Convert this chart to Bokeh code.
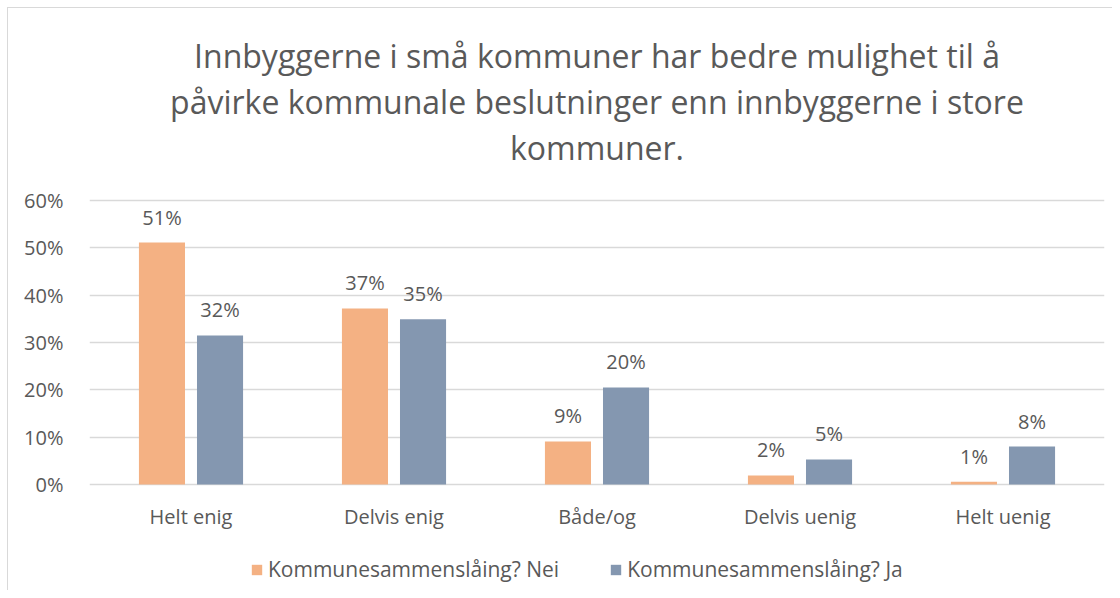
from bokeh.plotting import figure
from bokeh.models import (ColumnDataSource, FactorRange, Range1d, FixedTicker,
                          PrintfTickFormatter, LabelSet, Title, Legend, LegendItem)
from bokeh.core.properties import value
from bokeh.transform import dodge
from bokeh.embed import file_html
from bokeh.resources import INLINE

categories = ["Helt enig", "Delvis enig", "Både/og", "Delvis uenig", "Helt uenig"]
nei = [51.1, 37.2, 9.1, 1.9, 0.6]
ja = [31.5, 34.9, 20.5, 5.3, 8.0]
nei_labels = ["51%", "37%", "9%", "2%", "1%"]
ja_labels = ["32%", "35%", "20%", "5%", "8%"]
series_names = ["Kommunesammenslåing? Nei", "Kommunesammenslåing? Ja"]
title_lines = ["Innbyggerne i små kommuner har bedre mulighet til å",
               "påvirke kommunale beslutninger enn innbyggerne i store",
               "kommuner."]
y_ticks = [0, 10, 20, 30, 40, 50, 60]

FONT = "Open Sans"
GREY = "#595959"
ORANGE = "#F4B183"
BLUE = "#8497B0"

source = ColumnDataSource(dict(cat=categories, nei=nei, ja=ja,
                               nei_lbl=nei_labels, ja_lbl=ja_labels))

# the frame reaches below 0 so the category labels and legend sit inside it
p = figure(x_range=FactorRange(*categories), y_range=Range1d(-22.4, 66.55),
           frame_width=1015, frame_height=421,
           output_backend="svg", toolbar_location=None,
           min_border_left=81, min_border_right=8, min_border_top=161,
           min_border_bottom=0)
p.styles = {"margin-left": "7px", "margin-top": "7px",
            "border-left": "1px solid #D9D9D9", "border-top": "1px solid #D9D9D9"}

for line in reversed(title_lines):
    t = Title(text=line, align="center", text_font=FONT, text_font_size="32px",
              text_color=GREY, text_font_style="normal", standoff=1, offset=-28)
    p.add_layout(t, "above")

r1 = p.vbar(x=dodge("cat", -0.143, range=p.x_range), top="nei", width=0.227,
            source=source, fill_color=ORANGE, line_color=None)
r2 = p.vbar(x=dodge("cat", 0.143, range=p.x_range), top="ja", width=0.227,
            source=source, fill_color=BLUE, line_color=None)

for col, off in (("nei", -0.143), ("ja", 0.143)):
    p.add_layout(LabelSet(x=dodge("cat", off, range=p.x_range), y=col,
                          text=col + "_lbl", source=source, y_offset=18,
                          text_align="center", text_baseline="alphabetic",
                          text_font=value(FONT), text_font_size=value("20px"),
                          text_color=GREY))

# category labels under the zero line
p.add_layout(LabelSet(x="cat", y=0, text="cat", source=source, y_offset=-32,
                      text_align="center", text_baseline="middle",
                      text_font=value(FONT), text_font_size=value("20px"),
                      text_color=GREY))
p.xaxis.visible = False

p.yaxis.ticker = FixedTicker(ticks=y_ticks)
p.yaxis.formatter = PrintfTickFormatter(format="%d%%")
p.yaxis.major_label_text_font = FONT
p.yaxis.major_label_text_font_size = "20px"
p.yaxis.major_label_text_color = GREY
p.yaxis.major_tick_line_color = None
p.yaxis.minor_tick_line_color = None
p.yaxis.major_label_standoff = 20
p.yaxis.axis_line_color = None
p.ygrid.grid_line_color = "#D9D9D9"
p.ygrid.grid_line_width = 1.5
p.xgrid.grid_line_color = None
p.outline_line_color = None

legend = Legend(items=[LegendItem(label=series_names[0], renderers=[r1]),
                       LegendItem(label=series_names[1], renderers=[r2])],
                orientation="horizontal", location=(161, 7),
                label_text_font=FONT, label_text_font_size="21px",
                label_text_color=GREY, glyph_width=13, glyph_height=13,
                spacing=50, label_standoff=5, border_line_color=None,
                background_fill_alpha=0, padding=0, margin=0)
p.add_layout(legend, "center")

open("out.html", "w").write(file_html(p, INLINE))
